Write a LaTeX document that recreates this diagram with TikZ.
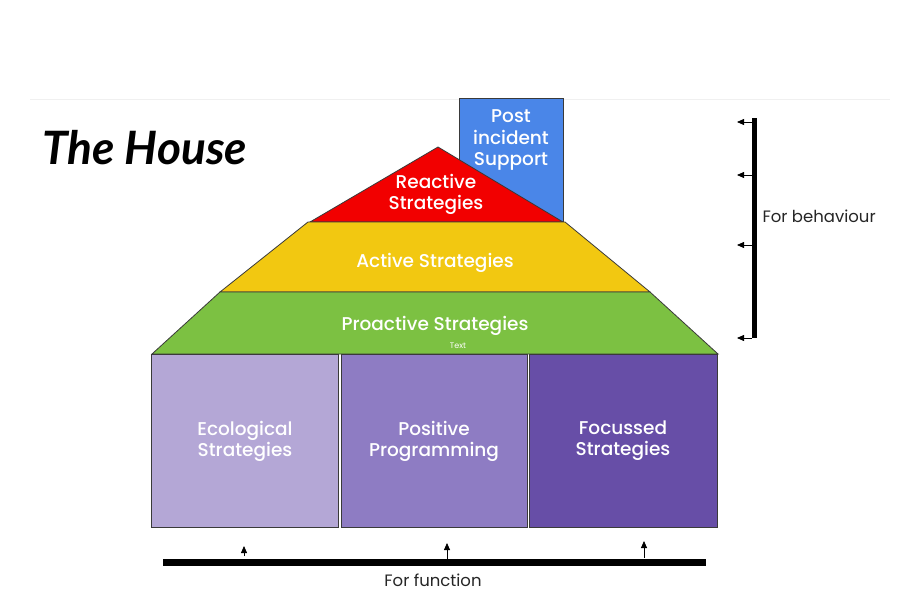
\documentclass[tikz,border=0pt]{standalone}
\usepackage{fontspec}
\setmainfont{Poppins}
\newfontfamily\medfont{Poppins Medium}
\newfontfamily\titlefont{Lato}
\usetikzlibrary{arrows.meta}
\definecolor{cblue}{HTML}{4A86E8}
\definecolor{cred}{HTML}{F20000}
\definecolor{cyellow}{HTML}{F2C811}
\definecolor{cgreen}{HTML}{7CC142}
\definecolor{cpurA}{HTML}{B4A7D6}
\definecolor{cpurB}{HTML}{8E7CC3}
\definecolor{cpurC}{HTML}{674EA7}
\definecolor{cedge}{HTML}{3A3A3A}
\tikzset{
  part/.style={draw=cedge, line width=0.8pt},
  lbl/.style={text=white, font=\medfont\fontsize{18.5}{21}\selectfont, align=center},
  sidelbl/.style={text=black!85, font=\fontsize{16.5}{19}\selectfont},
  bar/.style={line width=6pt, draw=black},
  tick/.style={line width=0.8pt, -{Triangle[length=7pt,width=6pt]}},
}
\begin{document}
\begin{tikzpicture}[x=1pt,y=-1pt]
\useasboundingbox (0,0) rectangle (900,610);
\fill[white] (0,0) rectangle (900,610);
\draw[black!6, line width=0.8pt] (30,99) -- (890,99);
% title
\node[anchor=west, font=\titlefont\bfseries\itshape\fontsize{46}{52}\selectfont, inner sep=0pt] (title) at (42,148) {The House};
% chimney
\draw[part, fill=cblue] (459,98) rectangle (563,222);
\node[lbl, font=\medfont\fontsize{18.5}{21.5}\selectfont] (post) at (511,140) {Post\\incident\\Support};
% roof
\draw[part, fill=cred] (310,222) -- (438,147) -- (563,222) -- cycle;
\node[lbl] (react) at (436,194) {Reactive\\Strategies};
\draw[part, fill=cyellow] (308,222) -- (565,222) -- (650,292) -- (220,292) -- cycle;
\node[lbl] (active) at (435,263) {Active Strategies};
\draw[part, fill=cgreen] (220,292) -- (650,292) -- (718,354) -- (152,354) -- cycle;
\node[lbl] (proact) at (435,326) {Proactive Strategies};
\node[text=white, font=\fontsize{8}{9}\selectfont] (txt) at (458,346) {Text};
% boxes
\draw[part, fill=cpurA] (151,354) rectangle (338,527);
\draw[part, fill=cpurB] (341,354) rectangle (527,527);
\draw[part, fill=cpurC] (529,354) rectangle (717,527);
\node[lbl] (eco) at (245,441) {Ecological\\Strategies};
\node[lbl] (pos) at (434,441) {Positive\\Programming};
\node[lbl] (foc) at (623,441) {Focussed\\Strategies};
% right bar
\coordinate (rtop) at (754,118);
\coordinate (rbot) at (754,338);
\draw[bar, line width=5pt] (rtop) -- (rbot);
\foreach \yy/\nm in {122/a,175/b,245/c,338/d}{
  \coordinate (rs\nm) at (752,\yy);
  \coordinate (re\nm) at (737,\yy);
  \draw[tick] (rs\nm) -- (re\nm);
}
\node[sidelbl, anchor=west] (beh) at (759,216) {For behaviour};
% bottom bar
\coordinate (bl) at (163,562);
\coordinate (br) at (706,562);
\draw[bar, line width=7pt] (bl) -- (br);
\foreach \xx/\ys/\ye/\nm in {244/556/546/a,447/560/543/b,644/558/541/c}{
  \coordinate (bs\nm) at (\xx,\ys);
  \coordinate (be\nm) at (\xx,\ye);
  \draw[tick] (bs\nm) -- (be\nm);
}
\node[sidelbl] (func) at (433,580) {For function};
\end{tikzpicture}
\end{document}
